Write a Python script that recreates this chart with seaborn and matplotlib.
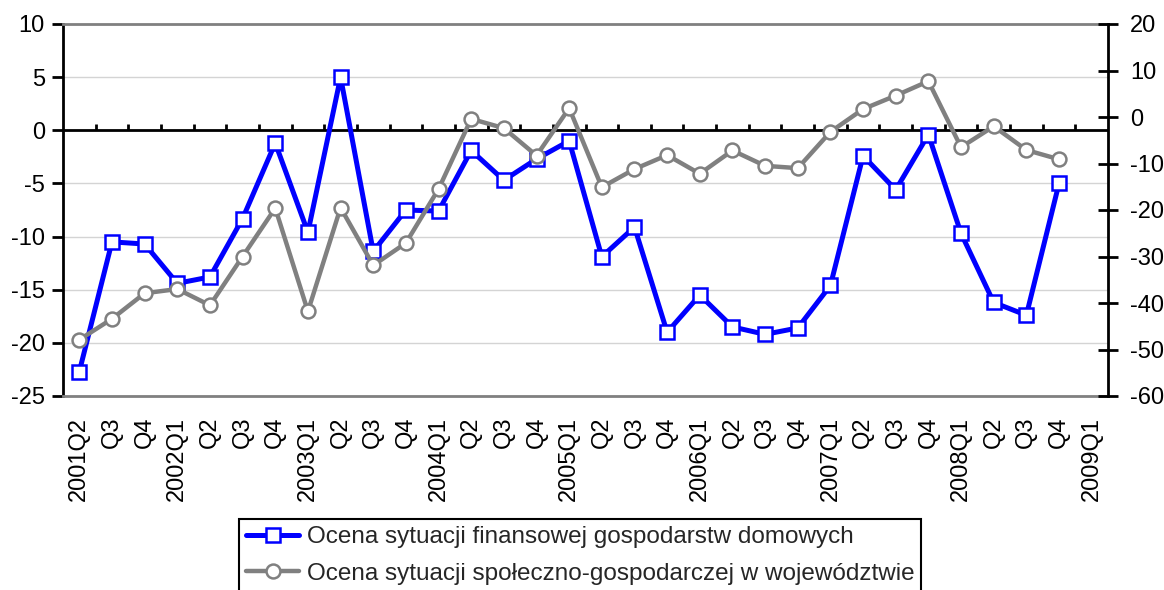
import numpy as np
import pandas as pd
import seaborn as sns
import matplotlib.pyplot as plt

# Quarter labels on the x axis (last one has no data)
quarters = ["2001Q2", "Q3", "Q4",
            "2002Q1", "Q2", "Q3", "Q4",
            "2003Q1", "Q2", "Q3", "Q4",
            "2004Q1", "Q2", "Q3", "Q4",
            "2005Q1", "Q2", "Q3", "Q4",
            "2006Q1", "Q2", "Q3", "Q4",
            "2007Q1", "Q2", "Q3", "Q4",
            "2008Q1", "Q2", "Q3", "Q4",
            "2009Q1"]

# left axis series
households = [-22.7, -10.5, -10.7, -14.4, -13.8, -8.3, -1.2, -9.6, 5.0, -11.4,
              -7.5, -7.6, -1.9, -4.7, -2.7, -1.0, -11.9, -9.1, -19.0, -15.5,
              -18.5, -19.2, -18.6, -14.6, -2.4, -5.6, -0.4, -9.7, -16.2, -17.4,
              -5.0]

# right axis series
region = [-47.9, -43.4, -37.9, -37.0, -40.5, -30.0, -19.6, -41.8, -19.5, -31.9,
          -27.1, -15.5, -0.4, -2.4, -8.3, 1.9, -15.1, -11.2, -8.2, -12.2,
          -7.2, -10.5, -11.0, -3.2, 1.7, 4.6, 7.7, -6.5, -2.0, -7.1,
          -9.1]

label_households = "Ocena sytuacji finansowej gospodarstw domowych"
label_region = "Ocena sytuacji społeczno-gospodarczej w województwie"

sns.set_style("white")
plt.rcParams['font.family'] = ['Liberation Sans', 'DejaVu Sans']
plt.rcParams['axes.unicode_minus'] = False

df = pd.DataFrame({'pos': np.arange(len(households)),
                   'households': households,
                   'region': region})

W, H = 1164, 590
fs = 17
fig = plt.figure(figsize=(W / 100, H / 100), dpi=100)
ax = fig.add_axes([63 / W, 1 - 396 / H, (1108 - 63) / W, (396 - 24) / H])
ax2 = ax.twinx()

sns.lineplot(data=df, x='pos', y='households', ax=ax, color='#0000ff',
             lw=3.6, marker='s', markersize=10, markerfacecolor='white',
             markeredgecolor='#0000ff', markeredgewidth=1.8, zorder=3)
sns.lineplot(data=df, x='pos', y='region', ax=ax2, color='#808080',
             lw=3.2, marker='o', markersize=10, markerfacecolor='white',
             markeredgecolor='#808080', markeredgewidth=1.8, zorder=3)

ax.set_xlim(-0.5, len(quarters) - 0.5)
ax.set_ylim(-25, 10)
ax2.set_ylim(-60, 20)
ax.set_yticks(range(-25, 11, 5))
ax2.set_yticks(range(-60, 21, 10))
ax.set_xlabel('')
ax.set_ylabel('')
ax2.set_ylabel('')

ax.yaxis.grid(True, color='#d4d4d4', lw=1)
ax.set_axisbelow(True)

for s in ['top', 'bottom']:
    ax.spines[s].set_color('#808080')
    ax.spines[s].set_linewidth(2)
ax.spines['left'].set_color('black')
ax.spines['left'].set_linewidth(2)
ax.spines['right'].set_visible(False)
for s in ['top', 'bottom', 'left']:
    ax2.spines[s].set_visible(False)
ax2.spines['right'].set_color('black')
ax2.spines['right'].set_linewidth(2)

# zero line with category-boundary ticks
ax.axhline(0, color='black', lw=2, zorder=2)
ax.vlines(np.arange(0.5, len(quarters) - 1), 0, 0.55, color='black', lw=2, zorder=2)

ax.set_xticks(range(len(quarters)))
ax.set_xticklabels(quarters, rotation=90, va='top', ha='center')
ax.tick_params(axis='x', length=0, pad=15, labelsize=fs, colors='black')
ax.tick_params(axis='y', length=8, width=2, direction='out', pad=5,
               labelsize=fs, colors='black')
ax2.tick_params(axis='y', length=14, width=2, direction='inout', pad=9,
                labelsize=fs, colors='black')

handles = [ax.get_lines()[0], ax2.get_lines()[0]]
leg = fig.legend(handles, [label_households, label_region],
                 loc='upper center', bbox_to_anchor=(580 / W, 1 - 519 / H),
                 frameon=True, fancybox=False, edgecolor='black', framealpha=1,
                 fontsize=17.5, handlelength=2.2, handletextpad=0.3,
                 borderpad=0.3, labelspacing=0.6, borderaxespad=0)
leg.get_frame().set_linewidth(1.5)

fig.savefig("out.png", dpi=100)
